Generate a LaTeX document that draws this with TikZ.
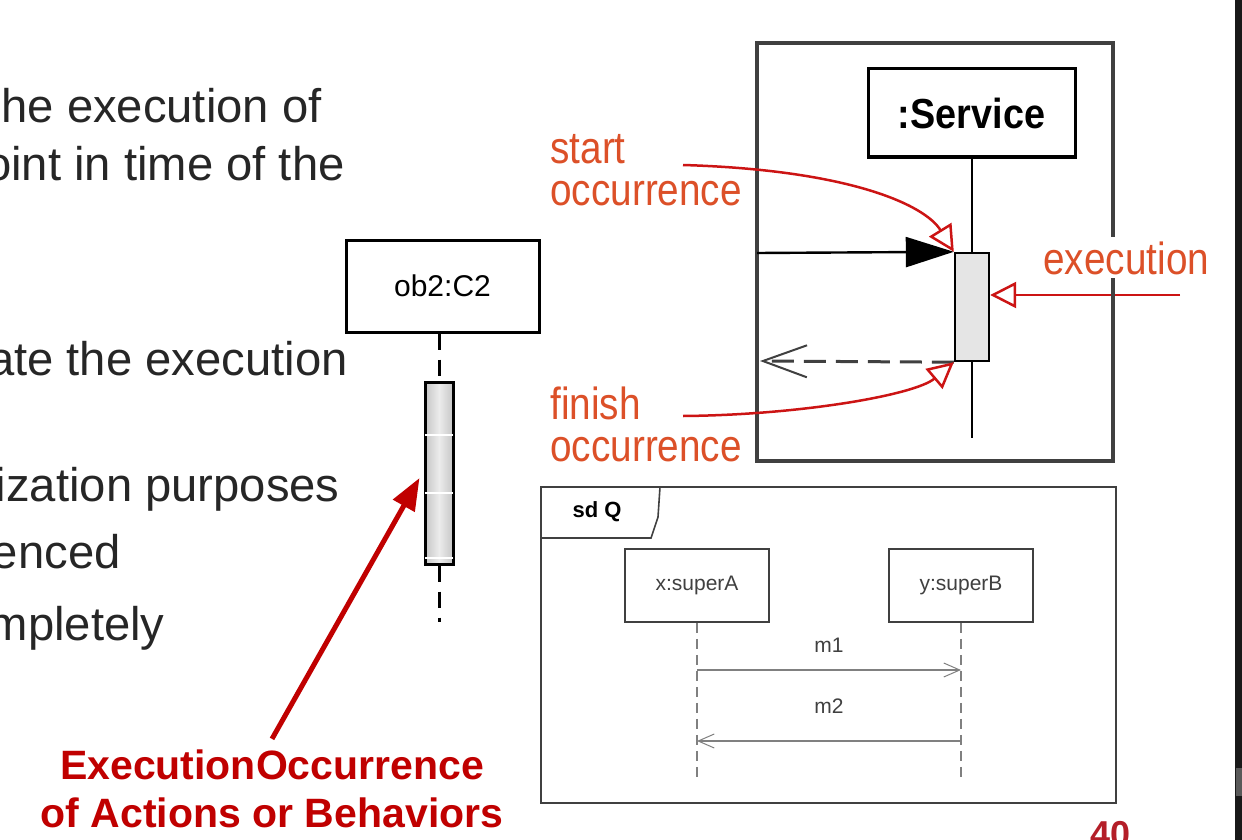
\documentclass[tikz,border=0pt]{standalone}
\usepackage{fontspec}
\setmainfont{Liberation Sans}
\newfontfamily\narrowsf[FakeStretch=0.86]{Liberation Sans}
\newfontfamily\condsf[FakeStretch=0.9]{Liberation Sans}
\usetikzlibrary{arrows.meta, positioning, calc}

\definecolor{slidetext}{HTML}{262626}
\definecolor{notered}{HTML}{DC5028}
\definecolor{curvered}{HTML}{CC1414}
\definecolor{darkred}{HTML}{C00000}
\definecolor{pagered}{HTML}{B41E28}
\definecolor{umlgray}{HTML}{404040}

\begin{document}
\begin{tikzpicture}[x=0.5pt, y=-0.5pt,
    slide/.style={font=\fontsize{23.6}{27}\selectfont, text=slidetext, anchor=base east, inner sep=0pt},
    note/.style={font=\narrowsf\fontsize{22.5}{21}\selectfont, text=notered, align=left, inner sep=0pt},
    obj/.style={draw, line width=1.5pt, minimum width=96.5pt, minimum height=46pt, inner sep=0pt},
    bar/.style={draw, line width=1.2pt, fill=gray!20, minimum width=17pt, minimum height=54pt, inner sep=0pt},
    life/.style={line width=1.5pt, dash pattern=on 8pt off 5pt},
    pointer/.style={curvered, line width=1.25pt, -{Triangle[open, length=13pt, width=13pt]}},
    msg/.style={line width=1.2pt, -{Triangle[length=24pt, width=15pt]}},
    reply/.style={umlgray, line width=1.5pt, dash pattern=on 11pt off 5pt, -{Straight Barb[length=22pt, width=16pt, line width=1pt]}},
    sdbox/.style={draw=umlgray, line width=0.8pt, minimum width=72pt, minimum height=36.5pt, font=\fontsize{10.5}{12}\selectfont, text=black!75},
    sdlabel/.style={font=\fontsize{10.5}{12}\selectfont, text=black!75, inner sep=0pt},
    sdmsg/.style={gray, line width=1.2pt, -{Straight Barb[length=8pt, width=7pt, line width=0.5pt]}},
    sdlife/.style={gray, line width=0.6pt, dash pattern=on 5pt off 3pt}
  ]
  \useasboundingbox (0,0) rectangle (1242,840);
  \clip (0,0) rectangle (1242,840);
  \fill[white] (0,0) rectangle (1242,840);

  % slide text, cut at the left border
  \node[slide] (l1) at (322,123) {he execution of};
  \node[slide] (l2) at (345,180) {oint in time of the};
  \node[slide] (l3) at (348,375) {ate the execution};
  \node[slide] (l4) at (340,501) {ization purposes};
  \node[slide] (l5) at (121,568) {enced};
  \node[slide] (l6) at (165,640) {mpletely};

  % lifeline with execution occurrence
  \node[obj, font=\fontsize{15}{18}\selectfont] (ob2) at (442.5,286) {ob2:C2};
  \node[draw, line width=1.5pt, minimum width=14pt, minimum height=91pt, inner sep=0pt,
    left color=gray!45, right color=gray!45, middle color=gray!15] (obbar) at (439,473) {};
  \foreach \y in {435,493,558}
    \draw[white, line width=1pt] ([xshift=0.75pt]obbar.west |- 0,\y) -- ([xshift=-0.75pt]obbar.east |- 0,\y);
  \draw[life] (ob2.south -| obbar.north) -- (obbar.north);
  \draw[life] (obbar.south) -- ++(0,56);

  \node[font=\bfseries\fontsize{20.5}{24}\selectfont, text=darkred, align=center] (eo) at (272,789)
    {ExecutionOccurrence\\of Actions or Behaviors};
  \draw[darkred, line width=2.5pt, -{Triangle[length=16pt, width=12pt]}] ($(eo.north)+(0,-4)$) -- ($(obbar.west)+(-4,5)$);

  % :Service example
  \coordinate (x0) at (1180,295);
  \node[bar] (exec) at (972,307) {};
  \draw[pointer] (x0) -- (x0 -| exec.east);
  \draw[umlgray, line width=1.6pt] (757,43) rectangle (1113,461);
  \node[obj, minimum width=103.5pt, minimum height=44pt, font=\condsf\bfseries\fontsize{21}{24}\selectfont] (svc) at (971.5,113) {:Service};
  \coordinate (svcend) at (972,438);
  \draw[line width=1.2pt] (svc.south -| exec.north) -- (exec.north);
  \draw[line width=1.2pt] (exec.south) -- (svcend);
  \coordinate (gate) at (757,253);
  \coordinate (gateret) at (760,361);
  \draw[msg] (gate) -- (exec.north west);
  \draw[reply] (exec.south west) -- (gateret);

  \node[note, anchor=north west] (start) at (550,134) {start\\occurrence};
  \node[note, anchor=north west] (finish) at (550,386) {finish\\occurrence};
  \node[note, anchor=base west, fill=white, inner sep=2pt] (execlbl) at (1039,274) {execution};
  \coordinate (s0) at (683,165);
  \coordinate (f0) at (683,416);
  \draw[pointer] (s0) .. controls (850,170) and (925,205) .. (exec.north west);
  \draw[pointer] (f0) .. controls (800,415) and (915,395) .. (exec.south west);

  % sd Q frame
  \draw[umlgray, line width=0.8pt] (541,487) rectangle (1116,803);
  \draw[umlgray, line width=0.8pt] (541,538) -- (651,538) -- (658,517) -- (660,487);
  \node[font=\bfseries\fontsize{11}{13}\selectfont] (sdq) at (597,512) {sd Q};
  \node[sdbox] (xa) at (697,585.5) {x:superA};
  \node[sdbox] (yb) at (961,585.5) {y:superB};
  \coordinate (xaend) at (697,778);
  \coordinate (ybend) at (961,778);
  \draw[sdlife] (xa.south) -- (xaend);
  \draw[sdlife] (yb.south) -- (ybend);
  \node[sdlabel] (m1) at (829,645) {m1};
  \node[sdlabel] (m2) at (829,706) {m2};
  \draw[sdmsg] (xa.south |- 0,670) -- (yb.south |- 0,670);
  \draw[sdmsg] (yb.south |- 0,741) -- (xa.south |- 0,741);

  % page number and window edge
  \node[font=\bfseries\fontsize{18}{20}\selectfont, text=pagered, anchor=base west, inner sep=0pt] (pnum) at (1090,846) {40};
  \fill[black!90] (1235,0) rectangle (1242,840);
  \fill[black!65] (1236,768) rectangle (1242,796);
\end{tikzpicture}
\end{document}
